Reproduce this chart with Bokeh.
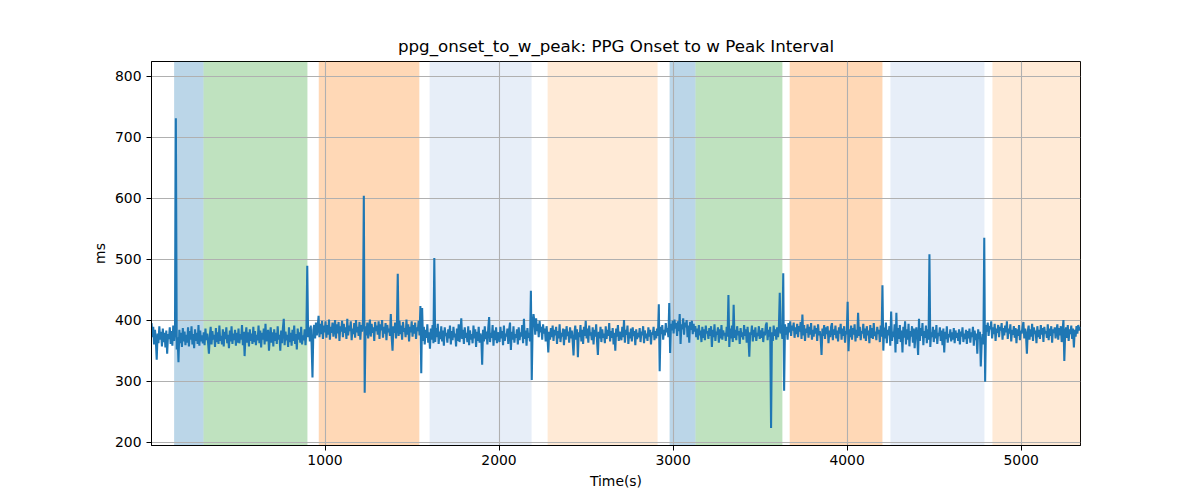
from bokeh.plotting import figure
from bokeh.models import BoxAnnotation, Range1d, FixedTicker, ColumnDataSource
from bokeh.embed import file_html
from bokeh.resources import INLINE

title_text = "ppg_onset_to_w_peak: PPG Onset to w Peak Interval"
x_label = "Time(s)"
y_label = "ms"

x_ticks = [1000, 2000, 3000, 4000, 5000]
y_ticks = [200, 300, 400, 500, 600, 700, 800]

# sample times (s): regular 5 s grid starting at 3 s
t_start = 3
t_step = 5

ms = [
    395, 372, 389, 360, 384, 366, 335, 378, 362, 390, 368, 381, 357, 386, 364, 379, 355, 383, 345, 377,
    369, 388, 361, 382, 358, 391, 366, 380, 731, 352, 372, 331, 384, 362, 379, 356, 387, 365, 381, 359,
    376, 363, 388, 357, 382, 368, 390, 360, 377, 354, 385, 366, 379, 361, 392, 358, 383, 365, 375, 362,
    380, 359, 386, 367, 378, 363, 345, 375, 389, 360, 382, 368, 376, 356, 387, 364, 380, 361, 391, 366,
    374, 360, 385, 357, 381, 369, 388, 362, 376, 354, 383, 365, 390, 361, 378, 367, 384, 358, 379, 363,
    386, 362, 377, 368, 392, 359, 381, 341, 374, 388, 363, 380, 357, 385, 366, 378, 361, 389, 364, 382,
    359, 376, 367, 391, 362, 383, 355, 379, 368, 386, 360, 394, 365, 377, 384, 350, 372, 388, 363, 380,
    357, 385, 366, 379, 361, 390, 368, 376, 350, 383, 362, 387, 402, 359, 381, 367, 376, 356, 388, 364,
    379, 358, 384, 366, 391, 361, 377, 352, 386, 368, 380, 363, 389, 360, 375, 367, 385, 359, 382, 489,
    372, 388, 365, 391, 360, 306, 384, 392, 370, 396, 375, 389, 407, 372, 394, 377, 399, 369, 391, 380,
    398, 371, 392, 376, 401, 368, 389, 379, 396, 373, 387, 400, 370, 393, 378, 397, 366, 390, 381, 399,
    372, 394, 379, 388, 369, 402, 375, 391, 382, 398, 367, 386, 377, 395, 371, 400, 380, 389, 374, 397,
    368, 392, 381, 399, 604, 281, 390, 375, 396, 370, 387, 401, 373, 394, 379, 388, 366, 397, 382, 391,
    376, 398, 369, 393, 383, 400, 371, 389, 378, 395, 367, 392, 380, 386, 374, 410, 372, 350, 390, 379,
    396, 370, 388, 476, 374, 399, 377, 391, 368, 397, 381, 387, 372, 401, 376, 393, 365, 389, 380, 398,
    373, 392, 378, 396, 369, 388, 382, 399, 375, 423, 313, 420, 366, 389, 360, 384, 371, 393, 363, 380,
    353, 386, 368, 392, 362, 502, 364, 387, 372, 394, 361, 381, 369, 390, 365, 383, 358, 388, 374, 379,
    363, 385, 370, 391, 360, 382, 367, 389, 372, 378, 357, 386, 366, 393, 364, 380, 403, 369, 384, 361,
    388, 371, 379, 364, 390, 359, 383, 368, 377, 362, 391, 370, 385, 356, 381, 366, 389, 363, 378, 372,
    327, 384, 365, 390, 369, 381, 360, 387, 405, 364, 379, 371, 392, 358, 383, 367, 388, 362, 380, 374,
    364, 389, 370, 382, 359, 391, 366, 378, 373, 386, 361, 384, 396, 351, 381, 368, 390, 363, 377, 371,
    385, 360, 388, 367, 380, 373, 392, 362, 402, 369, 383, 358, 387, 371, 379, 365, 448, 302, 392, 410,
    398, 376, 403, 382, 394, 372, 399, 380, 389, 368, 393, 378, 386, 365, 390, 374, 347, 381, 368, 387,
    372, 391, 366, 384, 375, 389, 361, 382, 370, 393, 364, 379, 373, 386, 359, 385, 368, 390, 374, 381,
    363, 388, 370, 383, 366, 342, 379, 391, 368, 385, 339, 380, 372, 392, 365, 384, 361, 389, 374, 399,
    370, 386, 363, 391, 375, 380, 367, 388, 360, 384, 373, 393, 366, 343, 381, 370, 389, 364, 385, 371,
    378, 362, 390, 369, 384, 374, 395, 365, 382, 371, 387, 360, 379, 350, 386, 373, 392, 366, 381, 375,
    367, 389, 372, 400, 363, 384, 376, 391, 361, 380, 370, 386, 365, 388, 374, 382, 359, 385, 369, 379,
    372, 387, 364, 381, 375, 390, 362, 383, 370, 378, 366, 388, 373, 384, 360, 380, 376, 389, 367, 382,
    370, 386, 374, 426, 316, 389, 377, 392, 368, 384, 375, 395, 380, 387, 372, 428, 346, 394, 383, 399,
    378, 401, 386, 395, 374, 398, 382, 410, 361, 393, 385, 403, 376, 396, 388, 400, 372, 391, 363, 397,
    384, 399, 377, 394, 381, 390, 372, 386, 368, 392, 375, 383, 364, 389, 371, 385, 367, 391, 378, 382,
    369, 387, 374, 390, 356, 384, 372, 393, 366, 381, 376, 388, 363, 385, 370, 392, 368, 383, 375, 379,
    366, 389, 373, 441, 356, 386, 370, 391, 364, 425, 371, 384, 367, 390, 375, 382, 361, 387, 372, 380,
    368, 392, 374, 385, 363, 389, 371, 340, 380, 376, 391, 365, 384, 372, 388, 366, 379, 374, 390, 369,
    383, 371, 387, 364, 381, 375, 392, 396, 367, 384, 373, 389, 223, 380, 366, 391, 374, 385, 368, 388,
    372, 390, 445, 378, 386, 369, 477, 284, 393, 376, 389, 368, 395, 380, 398, 374, 391, 383, 396, 371,
    388, 377, 394, 372, 390, 381, 397, 369, 409, 375, 392, 366, 386, 379, 393, 371, 389, 376, 395, 368,
    384, 373, 391, 378, 387, 366, 393, 375, 382, 370, 343, 386, 374, 392, 369, 388, 377, 390, 362, 383,
    372, 389, 395, 367, 385, 376, 391, 370, 383, 365, 388, 378, 394, 368, 386, 374, 390, 363, 382, 377,
    430, 349, 385, 372, 391, 368, 387, 376, 393, 365, 384, 371, 412, 374, 389, 367, 382, 378, 394, 370,
    386, 366, 390, 375, 383, 362, 392, 371, 387, 369, 395, 374, 381, 367, 389, 377, 384, 364, 391, 373,
    457, 350, 388, 370, 396, 362, 384, 375, 390, 358, 414, 366, 381, 372, 393, 347, 412, 361, 387, 369,
    392, 364, 383, 347, 389, 371, 398, 360, 385, 368, 394, 357, 382, 373, 390, 363, 386, 354, 379, 388,
    369, 343, 402, 366, 387, 374, 395, 359, 382, 371, 391, 362, 385, 368, 508, 356, 380, 372, 389, 364,
    384, 370, 392, 361, 379, 374, 388, 366, 383, 359, 386, 347, 381, 369, 390, 363, 377, 372, 385, 365,
    380, 368, 387, 362, 383, 371, 379, 366, 385, 360, 381, 373, 388, 364, 378, 369, 384, 361, 382, 370,
    386, 363, 380, 372, 389, 358, 383, 367, 378, 345, 385, 369, 381, 324, 362, 377, 360, 535, 299, 392,
    381, 396, 374, 390, 385, 398, 370, 388, 377, 394, 366, 386, 379, 392, 372, 389, 383, 395, 368, 387,
    375, 391, 380, 398, 369, 386, 378, 393, 365, 384, 376, 390, 371, 387, 362, 385, 374, 392, 367, 383,
    378, 389, 397, 370, 386, 375, 345, 382, 391, 368, 385, 373, 394, 366, 388, 377, 383, 362, 390, 372,
    384, 369, 392, 376, 387, 364, 389, 378, 382, 371, 393, 367, 386, 374, 390, 363, 385, 379, 388, 370,
    382, 393, 368, 387, 375, 390, 364, 384, 400, 333, 379, 388, 371, 392, 366, 385, 377, 391, 369, 386,
    355, 384, 373, 390, 378, 392, 383, 389,
]
t = [t_start + t_step * i for i in range(len(ms))]

region_start = [133, 302, 964, 1601, 2279, 2980, 3129, 3670, 4249, 4835]
region_end = [302, 899, 1542, 2187, 2911, 3129, 3628, 4203, 4789, 5341]
region_color = ["#1f77b4", "#2ca02c", "#ff7f0e", "#aec7e8", "#ffbb78",
                "#1f77b4", "#2ca02c", "#ff7f0e", "#aec7e8", "#ffbb78"]

x_min, x_max = 3, 5341
y_min, y_max = 194.4, 824

p = figure(width=1192, height=492, output_backend="svg", toolbar_location=None,
           x_range=Range1d(x_min, x_max), y_range=Range1d(y_min, y_max),
           min_border_left=151, min_border_right=112, min_border_top=61,
           min_border_bottom=47, title=title_text)

p.title.align = "center"
p.title.text_font = "DejaVu Sans"
p.title.text_font_size = "16.7px"
p.title.text_font_style = "normal"
p.title.text_color = "black"
p.title.standoff = 12

for s, e, c in zip(region_start, region_end, region_color):
    p.add_layout(BoxAnnotation(left=s, right=e, fill_color=c, fill_alpha=0.3,
                               line_color=None, level="image"))

src = ColumnDataSource(dict(t=t, ms=ms))
p.line("t", "ms", source=src, line_color="#1f77b4", line_width=2.08)

p.outline_line_color = "black"
p.outline_line_width = 1
p.outline_line_alpha = 1

for ax in (p.xaxis[0], p.yaxis[0]):
    ax.major_label_text_font = "DejaVu Sans"
    ax.major_label_text_font_size = "13.9px"
    ax.major_label_text_color = "black"
    ax.axis_label_text_font = "DejaVu Sans"
    ax.axis_label_text_font_size = "13.9px"
    ax.axis_label_text_font_style = "normal"
    ax.axis_label_text_color = "black"
    ax.axis_line_color = "black"
    ax.major_tick_line_color = "black"
    ax.major_tick_out = 5
    ax.major_tick_in = 0
    ax.minor_tick_line_color = None

p.xaxis.major_label_standoff = 4
p.yaxis.major_label_standoff = 5
p.xaxis.ticker = FixedTicker(ticks=x_ticks)
p.yaxis.ticker = FixedTicker(ticks=y_ticks)
p.xaxis.axis_label = x_label
p.yaxis.axis_label = y_label
p.xaxis.axis_label_standoff = 5
p.yaxis.axis_label_standoff = 4

for g in (p.xgrid[0], p.ygrid[0]):
    g.grid_line_color = "#b0b0b0"
    g.grid_line_width = 1.1
    g.level = "underlay"

p.background_fill_color = "white"
p.border_fill_color = "white"

open("out.html", "w").write(file_html(p, INLINE))
